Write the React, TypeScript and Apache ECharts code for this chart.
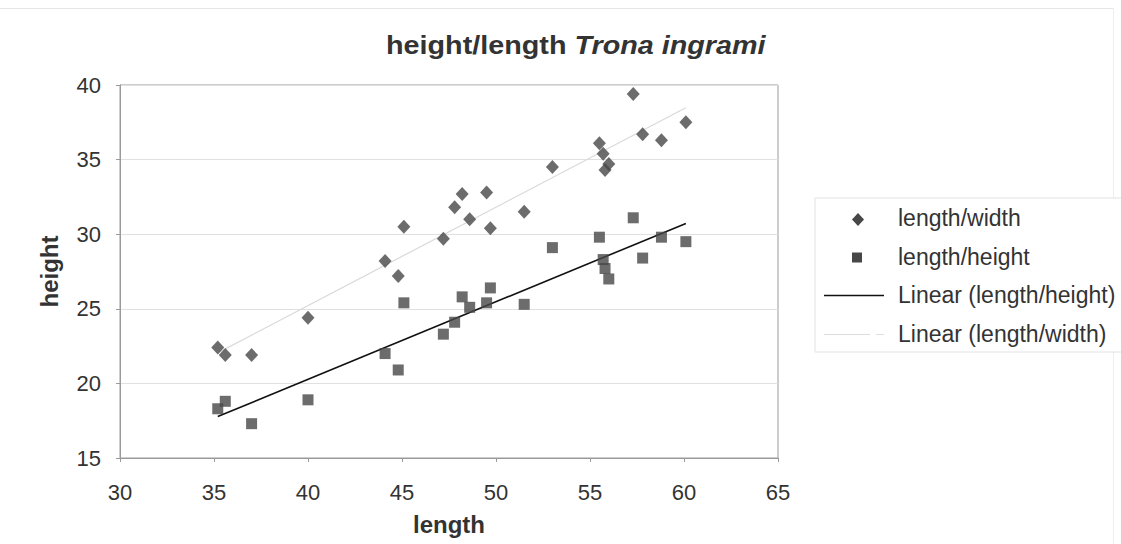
import React, { useEffect, useRef } from "react";
import * as echarts from "echarts";

const lengths = [35.2, 35.6, 37.0, 40.0, 44.1, 44.8, 45.1, 47.2, 47.8, 48.2, 48.6, 49.5, 49.7, 51.5, 53.0, 55.5, 55.7, 55.8, 56.0, 57.3, 57.8, 58.8, 60.1];
const widths = [22.4, 21.9, 21.9, 24.4, 28.2, 27.2, 30.5, 29.7, 31.8, 32.7, 31.0, 32.8, 30.4, 31.5, 34.5, 36.1, 35.4, 34.3, 34.7, 39.4, 36.7, 36.3, 37.5];
const heights = [18.3, 18.8, 17.3, 18.9, 22.0, 20.9, 25.4, 23.3, 24.1, 25.8, 25.1, 25.4, 26.4, 25.3, 29.1, 29.8, 28.3, 27.7, 27.0, 31.1, 28.4, 29.8, 29.5];
const seriesNames = ["length/width", "length/height", "Linear (length/height)", "Linear (length/width)"];
const titleMain = "height/length ";
const titleItalic = "Trona ingrami";

function trend(xs: number[], ys: number[]) {
  const n = xs.length;
  const mx = xs.reduce((a, b) => a + b, 0) / n;
  const my = ys.reduce((a, b) => a + b, 0) / n;
  let sxy = 0, sxx = 0;
  for (let i = 0; i < n; i++) {
    sxy += (xs[i] - mx) * (ys[i] - my);
    sxx += (xs[i] - mx) * (xs[i] - mx);
  }
  const b = sxy / sxx;
  const a = my - b * mx;
  const x0 = Math.min(...xs);
  const x1 = Math.max(...xs);
  return [[x0, a + b * x0], [x1, a + b * x1]];
}

const FONT = "'Liberation Sans', Arial, sans-serif";
const MARK = "#474747";
const TXT = "#333";

export default function App() {
  const ref = useRef<HTMLDivElement>(null);
  useEffect(() => {
    if (!ref.current) return;
    const chart = echarts.init(ref.current, null, { renderer: "svg" });
    const lx = 815, ly = 198;
    const legendFont = `23px ${FONT}`;
    chart.setOption({
      animation: false,
      backgroundColor: "#fff",
      grid: { left: 120, top: 85, width: 658, height: 373, show: true, borderColor: "#9a9a9a", borderWidth: 1, backgroundColor: "transparent" },
      xAxis: {
        type: "value", min: 30, max: 65, interval: 5,
        name: "length", nameLocation: "middle", nameGap: 54,
        nameTextStyle: { fontFamily: FONT, fontSize: 24, fontWeight: "bold", color: TXT },
        axisLine: { show: true, lineStyle: { color: "#9a9a9a" } },
        axisTick: { show: true, length: 4, lineStyle: { color: "#9a9a9a" } },
        axisLabel: { fontFamily: FONT, fontSize: 22, color: TXT, margin: 23 },
        splitLine: { show: false },
      },
      yAxis: {
        type: "value", min: 15, max: 40, interval: 5,
        name: "height", nameLocation: "middle", nameGap: 59, nameRotate: 90,
        nameTextStyle: { fontFamily: FONT, fontSize: 24, fontWeight: "bold", color: TXT },
        axisLine: { show: true, lineStyle: { color: "#9a9a9a" } },
        axisTick: { show: true, length: 4, lineStyle: { color: "#9a9a9a" } },
        axisLabel: { fontFamily: FONT, fontSize: 22, color: TXT, margin: 19 },
        splitLine: { show: true, lineStyle: { color: "#e0e0e0" } },
      },
      series: [
        {
          name: seriesNames[3], type: "line", data: trend(lengths, widths), showSymbol: false,
          lineStyle: { color: "#d9d9d9", width: 1.2 }, z: 1,
        },
        {
          name: seriesNames[2], type: "line", data: trend(lengths, heights), showSymbol: false,
          lineStyle: { color: "#111", width: 1.6 }, z: 1,
        },
        {
          name: seriesNames[0], type: "scatter", symbol: "diamond", symbolSize: [13, 14],
          data: lengths.map((x, i) => [x, widths[i]]), itemStyle: { color: MARK }, z: 3,
        },
        {
          name: seriesNames[1], type: "scatter", symbol: "rect", symbolSize: 11,
          data: lengths.map((x, i) => [x, heights[i]]), itemStyle: { color: MARK }, z: 3,
        },
      ],
      graphic: [
        { type: "line", shape: { x1: 0, y1: 8.5, x2: 1113, y2: 8.5 }, style: { stroke: "#e6e6e6", lineWidth: 1 } },
        { type: "line", shape: { x1: 1113.5, y1: 8, x2: 1113.5, y2: 544 }, style: { stroke: "#eeeeee", lineWidth: 1 } },
        {
          type: "text", x: 386, y: 46, scaleX: 1.15,
          style: {
            text: `{a|${titleMain}}{b|${titleItalic}}`,
            verticalAlign: "middle",
            rich: {
              a: { fontFamily: FONT, fontSize: 25, fontWeight: "bold", fill: TXT },
              b: { fontFamily: FONT, fontSize: 25, fontWeight: "bold", fontStyle: "italic", fill: TXT },
            },
          },
        },
        { type: "rect", shape: { x: lx, y: ly, width: 320, height: 154 }, style: { fill: "#fff", stroke: "#e2e2e2", lineWidth: 1 } },
        { type: "polygon", shape: { points: [[858, 213], [864, 219.5], [858, 226], [852, 219.5]] }, style: { fill: MARK } },
        { type: "rect", shape: { x: 852, y: 252.5, width: 10, height: 10 }, style: { fill: MARK } },
        { type: "line", shape: { x1: 824, y1: 295.5, x2: 884, y2: 295.5 }, style: { stroke: "#111", lineWidth: 1.5 } },
        { type: "line", shape: { x1: 824, y1: 334.5, x2: 884, y2: 334.5 }, style: { stroke: "#dddddd", lineWidth: 1.2, lineDash: [46, 6] } },
        { type: "text", x: 898, y: 218, style: { text: seriesNames[0], font: legendFont, fill: TXT, verticalAlign: "middle" } },
        { type: "text", x: 898, y: 257, style: { text: seriesNames[1], font: legendFont, fill: TXT, verticalAlign: "middle" } },
        { type: "text", x: 898, y: 295, style: { text: seriesNames[2], font: legendFont, fill: TXT, verticalAlign: "middle" } },
        { type: "text", x: 898, y: 334, style: { text: seriesNames[3], font: legendFont, fill: TXT, verticalAlign: "middle" } },
      ],
    });
    return () => chart.dispose();
  }, []);
  return <div ref={ref} style={{ position: "absolute", left: 0, top: 0, width: 1121, height: 544 }} />;
}
